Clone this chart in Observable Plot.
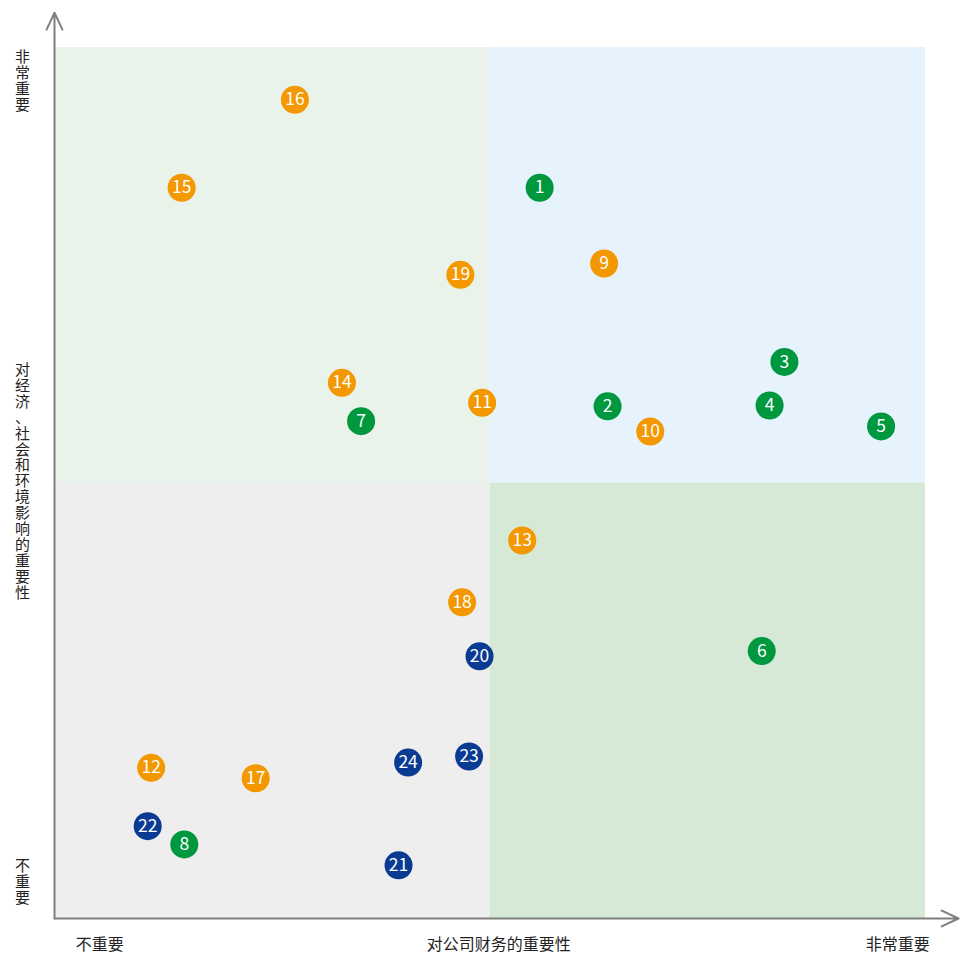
<!DOCTYPE html>
<html>
<head>
<meta charset="utf-8">
<script src="https://cdn.jsdelivr.net/npm/d3@7"></script>
<script src="https://cdn.jsdelivr.net/npm/@observablehq/plot@0.6"></script>
<style>
  html, body { margin: 0; padding: 0; background: #fff; }
  #chart { width: 960px; height: 960px; }
</style>
</head>
<body>
<div id="chart"></div>
<script>
// Topic ids, x = importance to company finances, y = importance of economic/social/environmental impact
const ids    = [1, 2, 3, 4, 5, 6, 7, 8, 9, 10, 11, 12, 13, 14, 15, 16, 17, 18, 19, 20, 21, 22, 23, 24];
const xVals  = [5.57, 6.35, 8.38, 8.21, 9.49, 8.12, 3.52, 1.49, 6.31, 6.84, 4.91, 1.11, 5.37, 3.30, 1.46, 2.76, 2.31, 4.68, 4.66, 4.88, 3.95, 1.07, 4.76, 4.06];
const yVals  = [8.39, 5.88, 6.39, 5.89, 5.65, 3.07, 5.71, 0.85, 7.52, 5.59, 5.92, 1.73, 4.34, 6.15, 8.39, 9.40, 1.61, 3.63, 7.39, 3.01, 0.61, 1.06, 1.86, 1.79];
const groups = ["g", "g", "g", "g", "g", "g", "g", "g", "o", "o", "o", "o", "o", "o", "o", "o", "o", "o", "o", "b", "b", "b", "b", "b"];

const groupColors = {g: "#00983f", o: "#f39800", b: "#0a3b92"};

// quadrants
const quadX1 = [0, 5, 0, 5];
const quadX2 = [5, 10, 5, 10];
const quadY1 = [5, 5, 0, 0];
const quadY2 = [10, 10, 5, 5];
const quadFill = ["#eaf3ea", "#e6f3fc", "#eeeeee", "#d5e9d6"];

// axis arrows extend beyond the frame
const axisX1 = [0, 0];
const axisY1 = [0, 0];
const axisX2 = [10.38, 0];
const axisY2 = [0, 10.4];

const xTickLabels = ["不重要", "对公司财务的重要性", "非常重要"];
const xTickPos = [0.52, 5.1, 9.68];
const yLabels = ["非常重要", "对经济、社会和环境影响的重要性", "不重要"];
const yLabelPos = [9.62, 5.02, 0.42];

const points = ids.map((id, i) => ({id, x: xVals[i], y: yVals[i], g: groups[i]}));
const quads = quadX1.map((_, i) => ({x1: quadX1[i], x2: quadX2[i], y1: quadY1[i], y2: quadY2[i], fill: quadFill[i]}));
const axes = axisX1.map((_, i) => ({x1: axisX1[i], y1: axisY1[i], x2: axisX2[i], y2: axisY2[i]}));
const xt = xTickLabels.map((t, i) => ({t, x: xTickPos[i]}));
const yt = yLabels.map((t, i) => ({t: Array.from(t).join("\n"), y: yLabelPos[i]}));

const font = "'Noto Sans CJK SC', 'Noto Sans', sans-serif";

const chart = Plot.plot({
  width: 960,
  height: 960,
  marginLeft: 54,
  marginRight: 35,
  marginTop: 47,
  marginBottom: 42,
  style: {fontFamily: font, background: "#fff"},
  x: {domain: [0, 10], axis: null},
  y: {domain: [0, 10], axis: null},
  marks: [
    Plot.rect(quads, {x1: "x1", x2: "x2", y1: "y1", y2: "y2", fill: d => d.fill}),
    Plot.arrow(axes, {x1: "x1", y1: "y1", x2: "x2", y2: "y2", stroke: "#7f7f7f", strokeWidth: 2, headLength: 14, headAngle: 50}),
    Plot.text(xt, {x: "x", frameAnchor: "bottom", dy: 31, text: "t", fontSize: 16, fill: "#222", fontFamily: font}),
    Plot.text(yt, {y: "y", frameAnchor: "left", textAnchor: "middle", dx: -32, text: "t", fontSize: 15, lineHeight: 1.06, fill: "#222", fontFamily: font}),
    Plot.dot(points, {x: "x", y: "y", r: 14, fill: d => groupColors[d.g], stroke: "none"}),
    Plot.text(points, {x: "x", y: "y", text: "id", fill: "#fff", fontSize: 17.5, fontFamily: font})
  ]
});
document.getElementById("chart").appendChild(chart);
</script>
</body>
</html>
